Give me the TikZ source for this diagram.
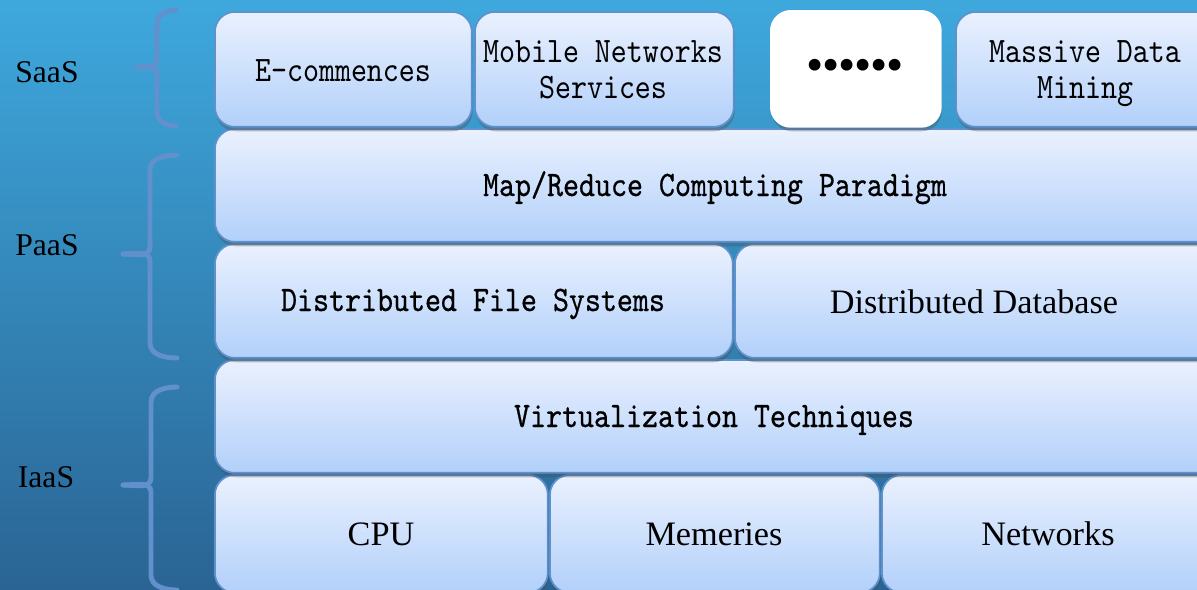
\documentclass[tikz,border=0pt]{standalone}
\usepackage{fontspec}
\setmainfont{Liberation Serif}
\newfontfamily\monof[FakeStretch=0.85]{lmmono10-regular.otf}
\newfontfamily\monofb[FakeStretch=0.85,FakeBold=0.6]{lmmono10-regular.otf}
\usetikzlibrary{shadows}
\definecolor{bgtop}{RGB}{62,168,221}
\definecolor{bgbot}{RGB}{42,100,148}
\definecolor{boxtop}{RGB}{234,241,254}
\definecolor{boxbot}{RGB}{178,208,250}
\definecolor{boxline}{RGB}{95,145,205}
\definecolor{bracecol}{RGB}{98,144,204}
\begin{document}
\begin{tikzpicture}[x=0.02cm,y=-0.02cm,
  layerbox/.style={draw=boxline, line width=1pt, rounded corners=0.4cm,
    top color=boxtop, bottom color=boxbot, anchor=north west, inner sep=0pt,
    drop shadow={shadow xshift=0.5pt, shadow yshift=-2.5pt, opacity=0.35, fill=black!70}},
  whitebox/.style={layerbox, top color=white, bottom color=white, draw=white},
  boxtext/.style={anchor=base, inner sep=0pt},
  monotext/.style={boxtext, font=\monof\fontsize{20.4}{21}\selectfont},
  monobold/.style={boxtext, font=\monofb\fontsize{20.4}{21}\selectfont},
  seriftext/.style={boxtext, font=\fontsize{19.5}{22}\selectfont},
  bracepath/.style={draw=bracecol, line width=2.8pt, line cap=round},
  layerlabel/.style={font=\fontsize{18}{20}\selectfont, anchor=base, inner sep=0pt}]
\useasboundingbox (0,0) rectangle (1197,589);
\begin{scope}
\clip (0,0) rectangle (1197,589);
\shade[top color=bgtop, bottom color=bgbot] (0,0) rectangle (1197,589);

% IaaS row (bottom first so upper shadows overlay)
\node[layerbox, minimum width=6.66cm, minimum height=2.36cm] (cpu) at (214,474) {};
\node[layerbox, minimum width=6.60cm, minimum height=2.36cm] (mem) at (549,474) {};
\node[layerbox, minimum width=6.70cm, minimum height=2.36cm] (net) at (881,474) {};
\node[layerbox, minimum width=20.04cm, minimum height=2.26cm] (virt) at (214,359) {};

% PaaS rows
\node[layerbox, minimum width=10.36cm, minimum height=2.28cm] (dfs) at (214,243) {};
\node[layerbox, minimum width=9.64cm, minimum height=2.28cm] (ddb) at (734,243) {};
\node[layerbox, minimum width=20.04cm, minimum height=2.26cm] (mr) at (214,128) {};

% SaaS row
\node[layerbox, minimum width=5.14cm, minimum height=2.30cm] (ecom) at (214,11) {};
\node[layerbox, minimum width=5.18cm, minimum height=2.30cm] (mob) at (474,11) {};
\node[whitebox, minimum width=3.40cm, minimum height=2.32cm] (dots) at (770,10) {};
\node[layerbox, minimum width=5.20cm, minimum height=2.30cm] (mass) at (955,11) {};

% texts
\node[seriftext] (cpu-t) at (381,545) {CPU};
\node[seriftext] (mem-t) at (714,545) {Memeries};
\node[seriftext] (net-t) at (1048,545) {Networks};
\node[monobold] (virt-t) at (714,427) {Virtualization Techniques};
\node[monobold] (dfs-t) at (473,311) {Distributed File Systems};
\node[seriftext] (ddb-t) at (974,313) {Distributed Database};
\node[monobold] (mr-t) at (715,196) {Map/Reduce Computing Paradigm};
\node[monotext] (ecom-t) at (343,81) {E-commences};
\node[monotext] (mob-t1) at (603,62) {Mobile Networks};
\node[monotext] (mob-t2) at (603,98) {Services};
\node[monotext] (mass-t1) at (1085,62) {Massive Data};
\node[monotext] (mass-t2) at (1085,98) {Mining};
\node[inner sep=0pt, font=\fontsize{28}{28}\selectfont] (dots-t) at (855,70)
  {\makebox[9.1pt]{\textbullet}\makebox[9.1pt]{\textbullet}\makebox[9.1pt]{\textbullet}\makebox[9.1pt]{\textbullet}\makebox[9.1pt]{\textbullet}\makebox[9.1pt]{\textbullet}};

% braces
\draw[bracepath] (176,10) to[out=180,in=90] (157,24) -- (157,60) to[out=-90,in=0] (137,67);
\draw[bracepath] (176,126) to[out=180,in=-90] (157,112) -- (157,74) to[out=90,in=0] (137,67);
\draw[bracepath] (177,155) to[out=180,in=90] (150,170) -- (150,247) to[out=-90,in=0] (123,254);
\draw[bracepath] (177,358) to[out=180,in=-90] (150,343) -- (150,261) to[out=90,in=0] (123,254);
\draw[bracepath] (177,387) to[out=180,in=90] (151,402) -- (151,478) to[out=-90,in=0] (123,485);
\draw[bracepath] (177,590) to[out=180,in=-90] (151,575) -- (151,492) to[out=90,in=0] (123,485);

% labels
\node[layerlabel] (saas) at (47,82) {SaaS};
\node[layerlabel] (paas) at (47,255) {PaaS};
\node[layerlabel] (iaas) at (46,487) {IaaS};
\end{scope}
\end{tikzpicture}
\end{document}
